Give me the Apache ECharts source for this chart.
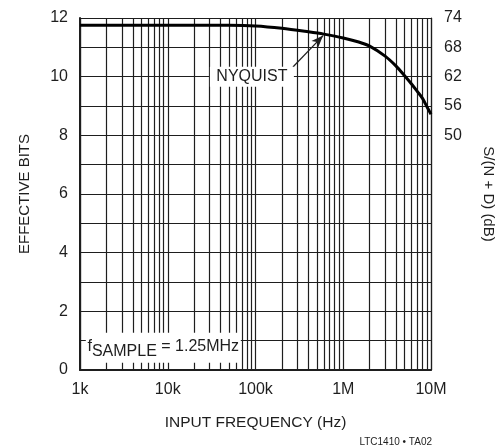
<!DOCTYPE html>
<html><head><meta charset="utf-8">
<script src="https://cdn.jsdelivr.net/npm/echarts@6/dist/echarts.min.js"></script>
<style>html,body{margin:0;padding:0;background:#fff}#c{width:504px;height:447px}</style>
</head><body><div id="c"></div>
<script>
const freqs = [1e3, 1e4, 5e4, 1e5, 2e5, 4e5, 6e5, 1e6, 1.5e6, 2e6, 3e6, 4e6, 5e6, 6e6, 7e6, 8e6, 9e6, 1e7];
const bits  = [11.75, 11.75, 11.75, 11.73, 11.65, 11.53, 11.45, 11.32, 11.18, 11.04, 10.7, 10.36, 10.03, 9.75, 9.49, 9.26, 8.97, 8.72];
const decades = [1e3, 1e4, 1e5, 1e6];
const minorMultipliers = [2, 3, 4, 5, 6, 7, 8, 9];
const xTickLabels = {1e3: '1k', 1e4: '10k', 1e5: '100k', 1e6: '1M', 1e7: '10M'};
const rightLabels = [50, 56, 62, 68, 74];
const nyquistLabel = {freq: 9.1e4, bits: 10, text: 'NYQUIST'};
const nyquistArrow = {from: [2.67e5, 10.33], to: [5.9e5, 11.4]};
const sampleLabel = {freq: 8.9e3, bits: 0.76};

const FONT = "'Liberation Sans Narrow', 'Arial Narrow', 'Liberation Sans', sans-serif";
const INK = '#1e1e1e';
const minorLines = [];
decades.forEach(d => minorMultipliers.forEach(m => minorLines.push({xAxis: d * m})));

const chart = echarts.init(document.getElementById('c'), null, {renderer: 'canvas'});
chart.setOption({
  animation: false,
  backgroundColor: '#fff',
  grid: {left: 80, right: 72, top: 18, bottom: 77, show: false},
  xAxis: {
    type: 'log', logBase: 10, min: 1e3, max: 1e7,
    name: 'INPUT FREQUENCY (Hz)', nameLocation: 'middle', nameGap: 45,
    nameTextStyle: {fontFamily: FONT, fontSize: 15.5, color: INK},
    axisLine: {lineStyle: {color: INK, width: 2}},
    axisTick: {show: false},
    axisLabel: {margin: 12, fontFamily: FONT, fontSize: 16, color: INK,
      formatter: v => xTickLabels[Math.round(v)] || ''},
    splitLine: {show: true, lineStyle: {color: INK, width: 1.2}}
  },
  yAxis: [{
    type: 'value', min: 0, max: 12, interval: 1,
    name: 'EFFECTIVE BITS', nameLocation: 'middle', nameGap: 48,
    nameTextStyle: {fontFamily: FONT, fontSize: 15, color: INK},
    axisLine: {show: true, lineStyle: {color: INK, width: 2}},
    axisTick: {show: false},
    axisLabel: {margin: 12, fontFamily: FONT, fontSize: 16, color: INK,
      formatter: v => (v % 2 === 0 ? String(v) : '')},
    splitLine: {show: true, lineStyle: {color: INK, width: 1.2}}
  }, {
    type: 'value', min: 2, max: 74, interval: 6, position: 'right',
    name: 'S/(N + D) (dB)', nameLocation: 'middle', nameGap: 50, nameRotate: -90,
    nameTextStyle: {fontFamily: FONT, fontSize: 15, color: INK},
    axisLine: {show: true, lineStyle: {color: INK, width: 1.2}},
    axisTick: {show: false},
    axisLabel: {margin: 13, fontFamily: FONT, fontSize: 16, color: INK,
      formatter: v => (rightLabels.indexOf(v) >= 0 ? String(v) : '')},
    splitLine: {show: false}
  }],
  series: [{
    type: 'line', data: [], z: 1,
    markLine: {
      silent: true, symbol: ['none', 'none'], z: 1, animation: false,
      label: {show: false},
      lineStyle: {color: INK, width: 1.2, type: 'solid'},
      data: minorLines
    }
  }, {
    type: 'line', z: 3,
    data: freqs.map((f, i) => [f, bits[i]]),
    showSymbol: false, smooth: 0.3,
    lineStyle: {color: '#000', width: 3}
  }, {
    type: 'line', data: [], z: 10,
    markPoint: {
      silent: true, z: 10, animation: false,
      data: [{
        coord: [nyquistLabel.freq, nyquistLabel.bits], symbol: 'rect', symbolSize: [84, 20],
        itemStyle: {color: '#fff'},
        label: {show: true, position: 'inside', formatter: nyquistLabel.text,
          fontFamily: FONT, fontSize: 16, color: INK}
      }, {
        coord: [sampleLabel.freq, sampleLabel.bits], symbol: 'rect', symbolSize: [155, 30],
        itemStyle: {color: '#fff'},
        label: {show: true, position: 'inside',
          formatter: '{a|f}{b|SAMPLE}{a| = 1.25MHz}',
          rich: {
            a: {fontFamily: FONT, fontSize: 16, color: INK, verticalAlign: 'top', lineHeight: 18},
            b: {fontFamily: FONT, fontSize: 16, color: INK, verticalAlign: 'top', lineHeight: 18, padding: [5, 0, 0, 0]}
          }}
      }]
    },
    markLine: {
      silent: true, z: 10, animation: false,
      symbol: ['none', 'arrow'], symbolSize: [7, 12],
      label: {show: false},
      lineStyle: {color: INK, width: 1.2, type: 'solid'},
      data: [[{coord: nyquistArrow.from}, {coord: nyquistArrow.to}]]
    }
  }],
  graphic: [{
    type: 'text', right: 72, bottom: 0,
    style: {text: 'LTC1410 • TA02', fontFamily: FONT, fontSize: 10, fill: INK}
  }]
});
</script></body></html>
